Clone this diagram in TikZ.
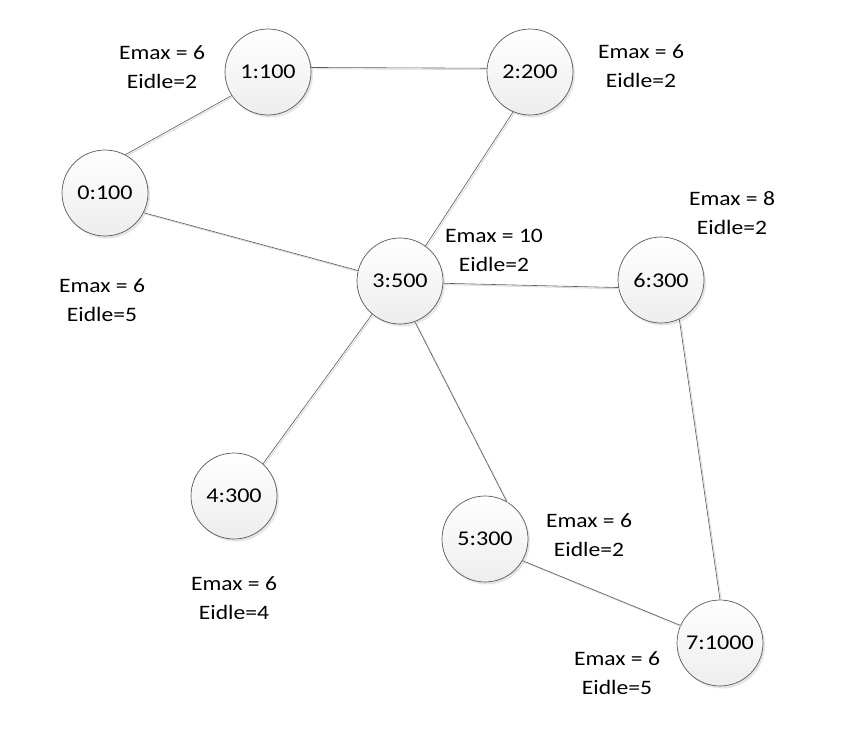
\documentclass[tikz,border=0pt]{standalone}
\usepackage{fontspec}
\setmainfont{Carlito}[FakeStretch=1.15]
\usetikzlibrary{shadows}
\tikzset{
  vert/.style={circle, minimum size=86pt, inner sep=0pt, draw=black!65, line width=0.7pt,
    top color=white, bottom color=black!7,
    drop shadow={shadow xshift=2pt, shadow yshift=-2.5pt, fill=black!25, opacity=0.4},
    font=\fontsize{21}{29}\selectfont},
  lab/.style={align=center, inner sep=0pt, font=\fontsize{20.5}{29}\selectfont},
  link/.style={draw=black!65, line width=0.6pt,
    preaction={draw=black!15, line width=0.9pt, transform canvas={xshift=1.3pt,yshift=-1.3pt}}}
}
\begin{document}
\begin{tikzpicture}[x=1pt,y=-1pt]
\useasboundingbox (0,0) rectangle (860,732);
\path
  (105,193) coordinate (c0)
  (268,72) coordinate (c1)
  (530,72) coordinate (c2)
  (400,281) coordinate (c3)
  (234,496) coordinate (c4)
  (485,539) coordinate (c5)
  (661,280) coordinate (c6)
  (720,643) coordinate (c7);
\node[vert] (n0) at (c0) {0:100};
\node[vert] (n1) at (c1) {1:100};
\node[vert] (n2) at (c2) {2:200};
\node[vert] (n3) at (c3) {3:500};
\node[vert] (n4) at (c4) {4:300};
\node[vert] (n5) at (c5) {5:300};
\node[vert] (n6) at (c6) {6:300};
\node[vert] (n7) at (c7) {7:1000};
\draw[link] (n0.62) -- (n1.213);
\draw[link] (n1.6) -- (n2.175);
\draw[link] (n2.247) -- (n3.54);
\draw[link] (n0.-27) -- (n3.166);
\draw[link] (n3.-3) -- (n6.190);
\draw[link] (n3.230) -- (n4.48);
\draw[link] (n3.290) -- (n5.60);
\draw[link] (n5.-30) -- (n7.156);
\draw[link] (n6.295) -- (n7.90);
\node[lab] (l1) at (162,67) {Emax = 6\\Eidle=2};
\node[lab] (l2) at (641,66) {Emax = 6\\Eidle=2};
\node[lab] (l6) at (732,213) {Emax = 8\\Eidle=2};
\node[lab] (l3) at (494,250) {Emax = 10\\Eidle=2};
\node[lab] (l0) at (102,300) {Emax = 6\\Eidle=5};
\node[lab] (l4) at (234,598) {Emax = 6\\Eidle=4};
\node[lab] (l5) at (589,535) {Emax = 6\\Eidle=2};
\node[lab] (l7) at (617,673) {Emax = 6\\Eidle=5};
\end{tikzpicture}
\end{document}
